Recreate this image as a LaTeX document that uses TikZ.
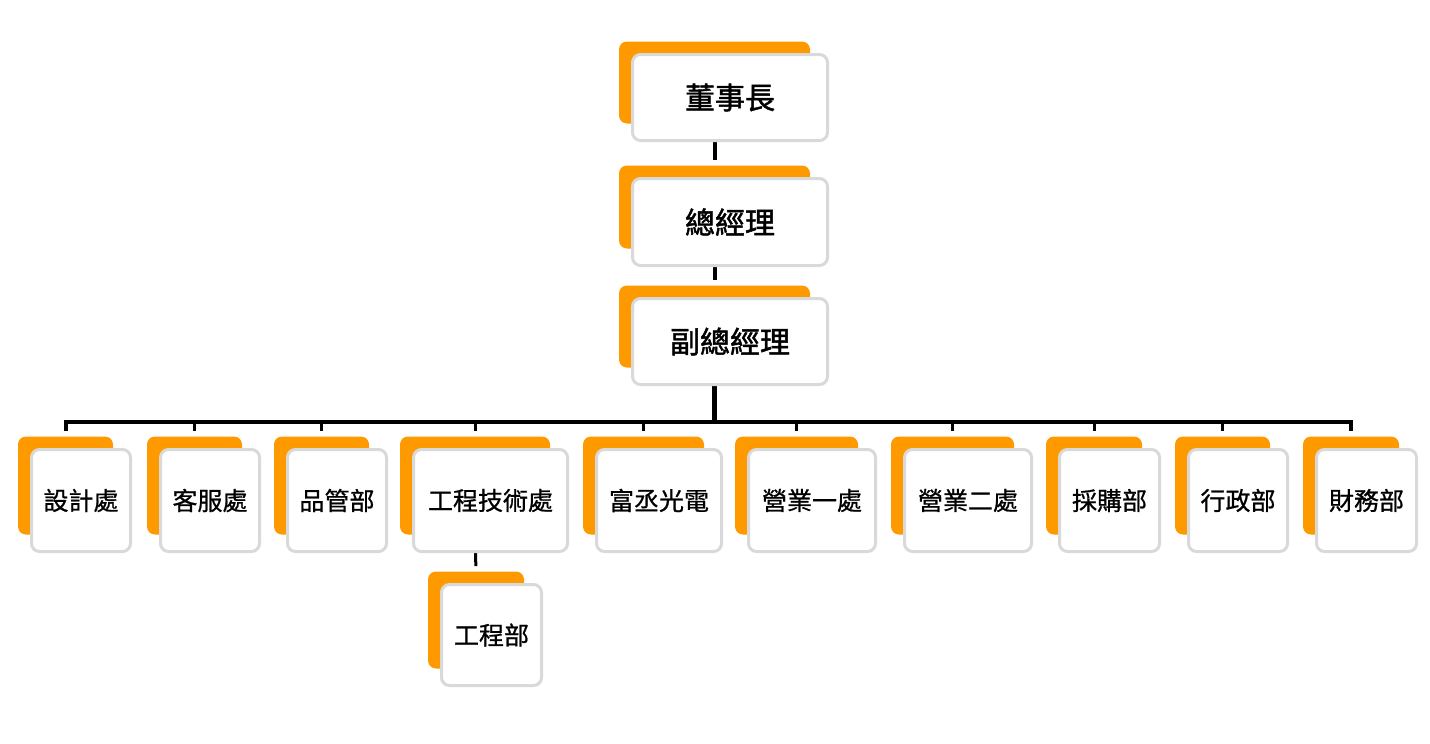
\documentclass[tikz,border=0pt]{standalone}
\usepackage{fontspec}
\setmainfont{Noto Sans CJK TC}
\newfontfamily\headfont[FakeBold=1.5]{Noto Sans CJK TC}
\newfontfamily\deptfont[FakeBold=0.8]{Noto Sans CJK TC}
\usetikzlibrary{positioning,backgrounds}
\definecolor{boxorange}{HTML}{FF9900}
\definecolor{boxgray}{HTML}{D9D9D9}
\tikzset{
    card/.style={draw=boxgray, line width=1.5pt, fill=white, rounded corners=4pt, inner sep=0pt, align=center},
    back/.style={fill=boxorange, rounded corners=4pt, inner sep=0pt},
    link/.style={line width=2pt, shorten >=2.5pt},
    drop/.style={line width=1.5pt, shorten >=2.5pt},
    big/.style={font=\headfont\fontsize{15pt}{18pt}\selectfont},
    small/.style={font=\deptfont\fontsize{12.5pt}{15pt}\selectfont},
}
% name, x, y, width, height, style, label  (pixels of the chart)
\newcommand{\orgbox}[7]{
    \node[back, minimum width={(#4-7)*0.5pt}, minimum height={(#5-7)*0.5pt}] (#1-b) at (#2-15.5,#3-15) {};
    \node[card, #6, minimum width={#4*0.5pt-1.5pt}, minimum height={#5*0.5pt-1.5pt}] (#1) at (#2,#3) {#7};
}

\begin{document}
\begin{tikzpicture}[x=0.5pt, y=-0.5pt]
            \useasboundingbox (0,0) rectangle (1430,744);
            \orgbox{ceo}{730}{97.5}{198}{89}{big}{董事長}
            \orgbox{gm}{730}{222}{198}{90}{big}{總經理}
            \orgbox{vgm}{730}{341.5}{198}{89}{big}{副總經理}
            \orgbox{ds}{81}{500.5}{102}{105}{small}{設計處}
            \orgbox{cs}{210}{500.5}{102}{105}{small}{客服處}
            \orgbox{qc}{337}{500.5}{102}{105}{small}{品管部}
            \orgbox{et}{490.5}{500.5}{157}{105}{small}{工程技術處}
            \orgbox{fc}{659}{500.5}{128}{105}{small}{富丞光電}
            \orgbox{sa}{812}{500.5}{130}{105}{small}{營業一處}
            \orgbox{sb}{968}{500.5}{130}{105}{small}{營業二處}
            \orgbox{pu}{1109.5}{500.5}{103}{105}{small}{採購部}
            \orgbox{ad}{1238}{500.5}{102}{105}{small}{行政部}
            \orgbox{fi}{1366.5}{500.5}{103}{105}{small}{財務部}
            \orgbox{en}{491.5}{635}{103}{104}{small}{工程部}
            \coordinate (bus) at (vgm-b.south |- 0,422);
            \begin{scope}[on background layer]
                \draw[link] (ceo-b.south) -- (gm-b.north);
                \draw[link] (gm-b.south) -- (vgm-b.north);
                \draw[link, line width=2.4pt, shorten >=0pt] (vgm-b.south) -- (bus);
                \draw[link, shorten >=0pt] ([yshift=2.5pt]ds-b.north) |- (bus) -| ([yshift=2.5pt]fi-b.north);
                \foreach \n in {cs,qc,et,fc,sa,sb,pu,ad}
                    \draw[drop] (\n-b.north |- bus) -- (\n-b.north);
                \draw[drop] (et-b.south) -- (en-b.north);
            \end{scope}
        \end{tikzpicture}
\end{document}
